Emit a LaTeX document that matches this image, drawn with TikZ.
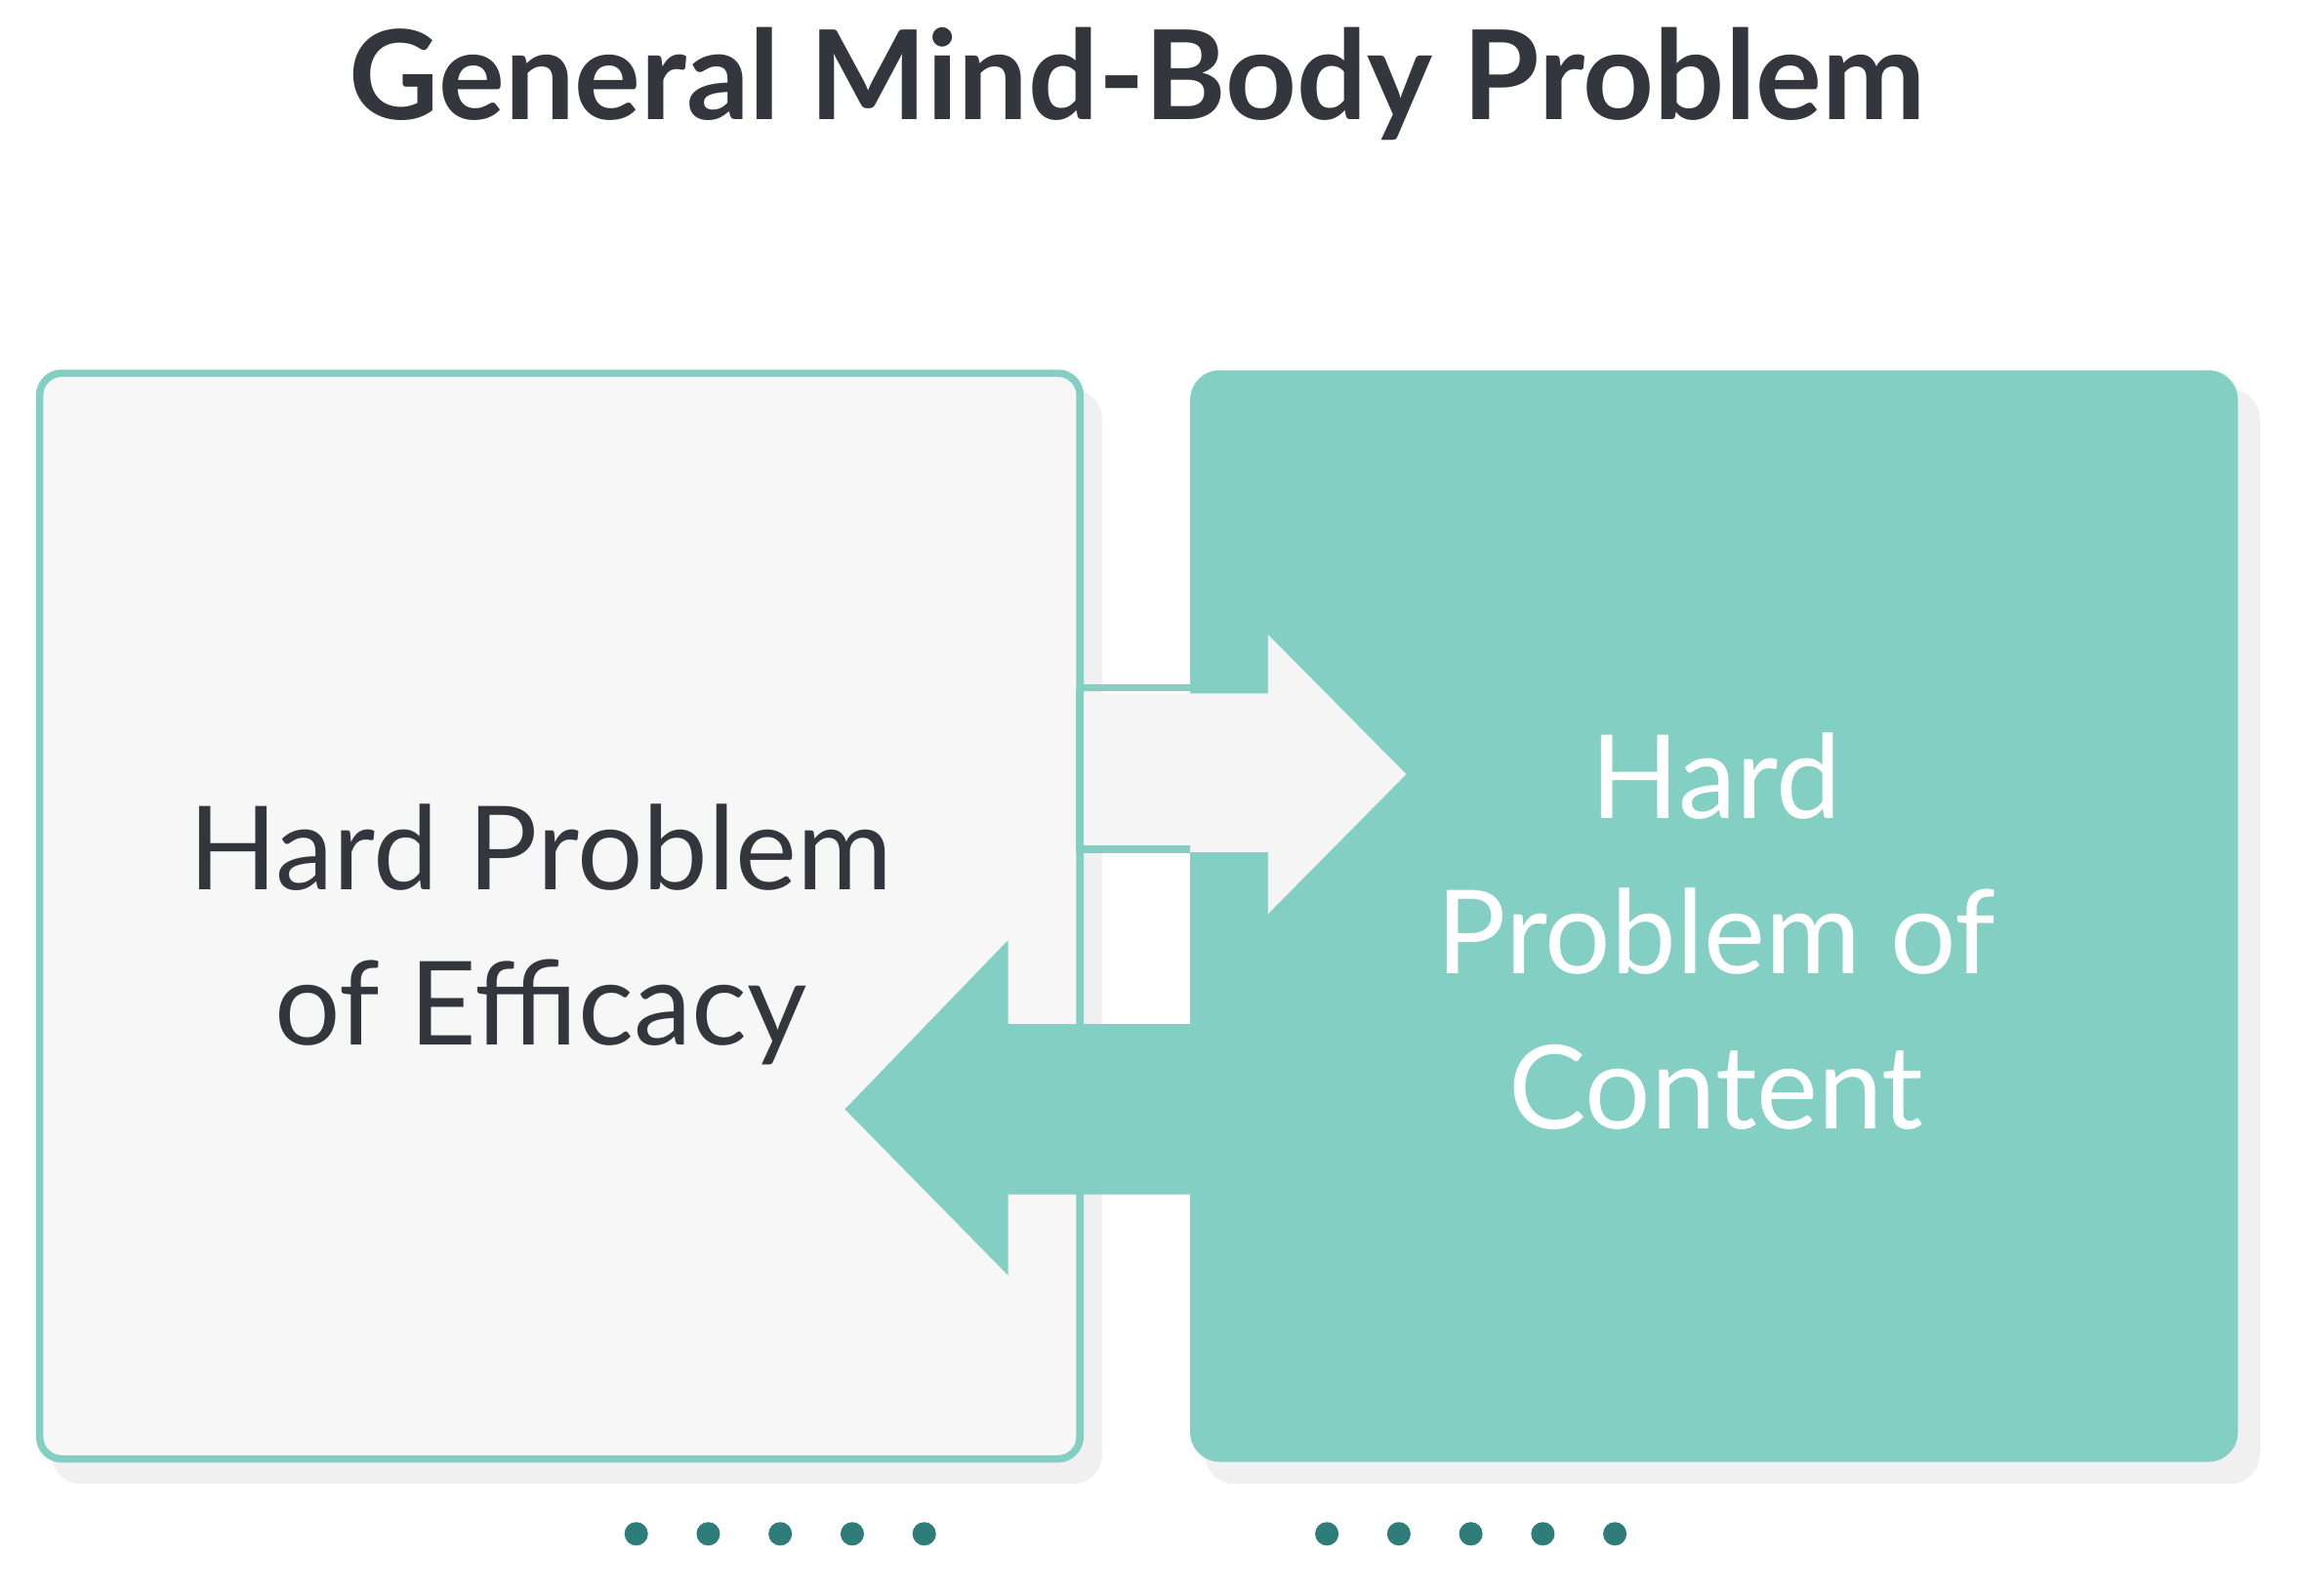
\documentclass[tikz,border=0pt]{standalone}
\usepackage{fontspec}
\setmainfont{Lato}
\definecolor{teal1}{HTML}{84CFC4}
\definecolor{dark}{HTML}{33373D}
\definecolor{dot}{HTML}{2E7D7A}
\definecolor{boxbg}{HTML}{F7F7F7}
\begin{document}
\begin{tikzpicture}[x=0.01cm,y=-0.01cm,
  dotst/.style={circle,fill=dot,minimum size=0.16cm,inner sep=0pt}]
\useasboundingbox (0,0) rectangle (1568,1086);
\node[font=\fontsize{24}{28}\selectfont\bfseries,text=dark] (title) at (774,57) {General Mind-Body Problem};
% shadows
\fill[black!6,rounded corners=0.2cm] (35,265) rectangle (750,1010);
\fill[black!6,rounded corners=0.2cm] (820,265) rectangle (1538,1010);
% boxes
\draw[teal1,line width=0.05cm,fill=boxbg,rounded corners=0.15cm] (27,254) rectangle (735,993);
\fill[teal1,rounded corners=0.2cm] (810,252) rectangle (1523,995);
% right arrow
\fill[black!4] (737,472) -- (863,472) -- (863,432) -- (957,527) -- (863,622) -- (863,580) -- (737,580) -- cycle;
\draw[teal1,line width=0.05cm] (735,468) -- (810,468) (735,578) -- (810,578) (735,470) -- (735,580);
% left arrow
\fill[teal1] (810,697) -- (686,697) -- (686,640) -- (575,755) -- (686,868) -- (686,813) -- (810,813) -- cycle;
\node[font=\fontsize{22.5}{30}\selectfont,text=dark,align=center] (l) at (368,636) {Hard Problem\\of Efficacy};
\node[font=\fontsize{22.5}{30}\selectfont,text=white,align=center] (r) at (1168,634) {Hard\\Problem of\\Content};
\foreach \x [count=\i] in {433,482,531,580,629} \node[dotst] (a\i) at (\x,1044) {};
\foreach \x [count=\i] in {903,952,1001,1050,1099} \node[dotst] (b\i) at (\x,1044) {};
\end{tikzpicture}
\end{document}
